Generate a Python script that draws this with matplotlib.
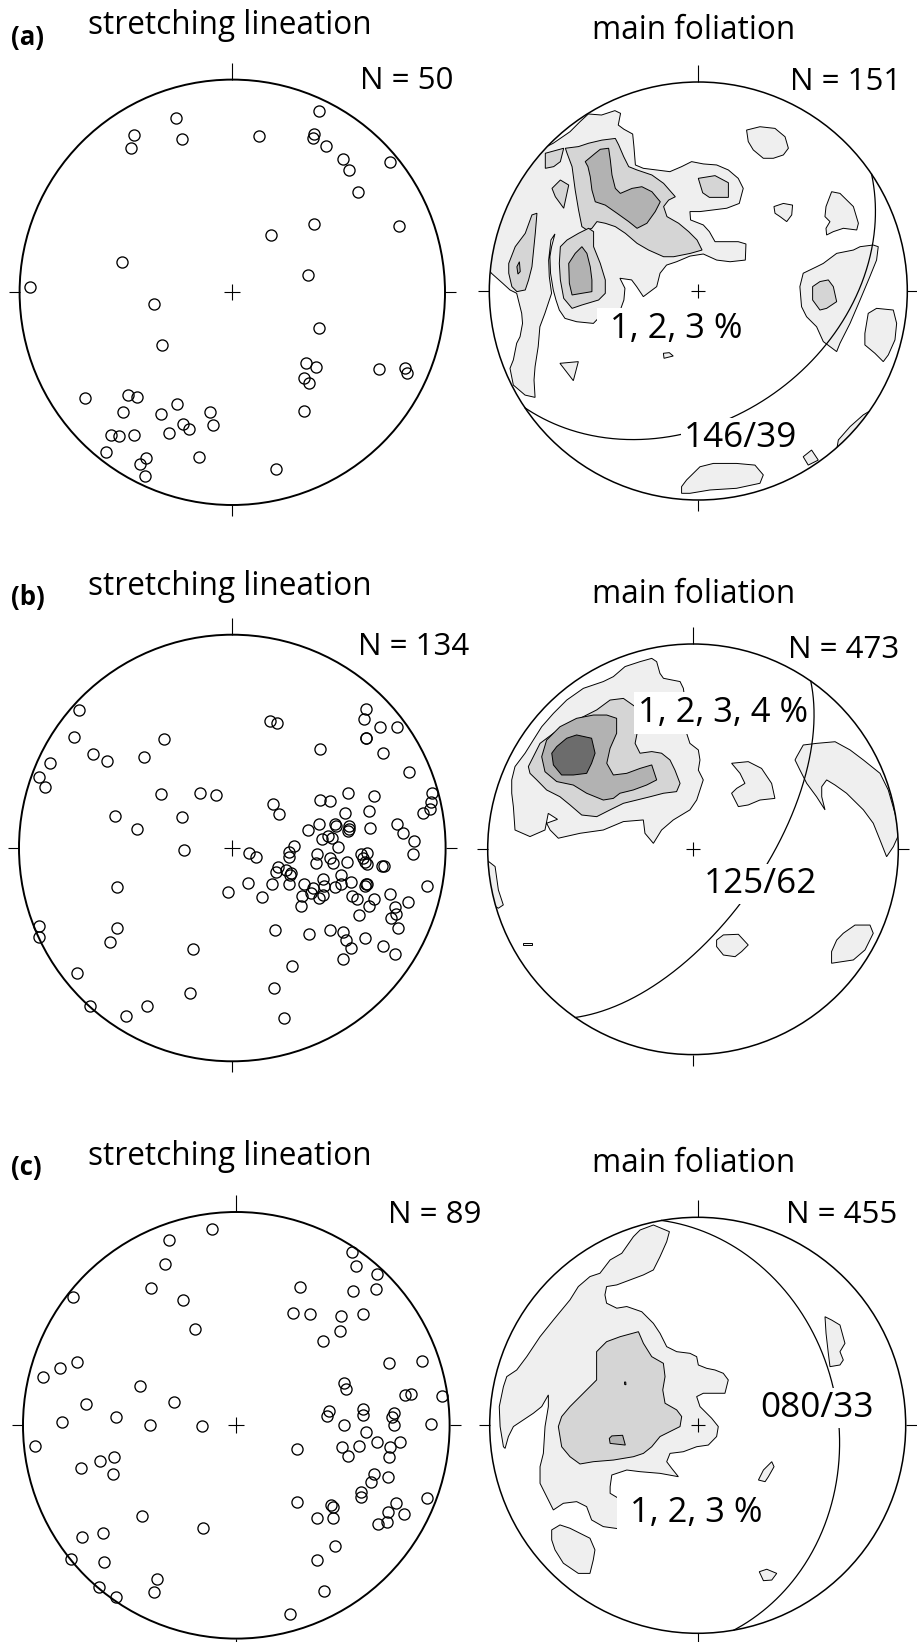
import numpy as np
import matplotlib
matplotlib.use("Agg")
import matplotlib.pyplot as plt
from matplotlib.patches import Circle, Polygon

plt.rcParams['font.family'] = ['Open Sans', 'DejaVu Sans']

W, H, DPI = 917, 1642, 100

# ---------------------------------------------------------------------------
# Stretching lineations: equal-area, lower hemisphere, (x, y) in % of net radius
# ---------------------------------------------------------------------------
lin_a = [(40.9, 85.3), (-26.6, 81.8), (-46.2, 73.8), (-47.5, 68.0), (-23.5, 72.1),
         (12.7, 73.7), (38.4, 74.3), (37.8, 72.7), (44.0, 68.8), (51.9, 62.9),
         (54.9, 57.7), (74.1, 61.1), (58.9, 47.0), (38.4, 32.0), (18.0, 26.8),
         (78.5, 31.0), (-51.7, 14.4), (35.7, 8.2), (-95.1, 2.4), (-36.7, -5.6),
         (40.9, -16.9), (-33.1, -24.9), (34.5, -33.2), (39.2, -35.0), (68.8, -36.2),
         (81.0, -35.7), (82.3, -37.9), (33.9, -40.1), (36.1, -42.8), (-69.3, -49.5),
         (-49.1, -48.1), (-45.0, -49.1), (-26.2, -52.4), (-51.4, -56.1), (-33.7, -57.2),
         (-10.3, -56.3), (33.5, -55.6), (-9.1, -62.2), (-23.2, -62.1), (-20.2, -64.3),
         (-57.2, -67.2), (-53.4, -67.7), (-46.1, -67.1), (-29.9, -66.1), (-59.4, -74.9),
         (-40.6, -78.1), (-43.6, -80.9), (-15.5, -77.4), (-40.9, -86.4), (20.5, -83.2)]

lin_b = [(-71.7, 64.5), (-74.4, 52.0), (-65.3, 44.1), (-58.6, 40.9), (-85.6, 39.8),
         (-90.5, 33.1), (-88.0, 28.8), (-41.4, 42.5), (-32.2, 51.1), (-33.4, 25.3),
         (-55.2, 14.8), (-44.8, 8.9), (-23.4, 14.5), (-15.0, 25.6), (-7.8, 24.8),
         (-22.5, -0.9), (17.7, 59.5), (20.8, 58.8), (62.5, 65.0), (61.9, 60.3),
         (69.1, 56.6), (77.2, 56.7), (62.8, 51.7), (62.8, 51.6), (70.5, 44.5),
         (41.1, 46.4), (82.8, 35.5), (93.8, 25.6), (93.1, 21.7), (92.8, 18.3),
         (89.5, 16.3), (19.2, 20.6), (21.9, 15.8), (41.3, 22.3), (45.6, 21.9),
         (54.1, 25.6), (66.4, 24.4), (52.8, 16.6), (64.1, 17.5), (40.8, 11.4),
         (48.0, 11.3), (48.4, 10.5), (54.5, 10.3), (54.8, 8.8), (54.4, 8.1),
         (64.4, 9.4), (77.2, 11.1), (79.8, 7.2), (35.5, 8.6), (41.9, 4.2),
         (45.0, 5.8), (46.7, 4.8), (49.4, 0.3), (85.0, 3.3), (84.8, -2.7),
         (28.9, 1.1), (26.4, -1.9), (26.4, -4.1), (39.8, -2.7), (45.6, -4.5),
         (39.4, -6.9), (47.3, -7.2), (53.6, -6.6), (60.3, -2.8), (63.3, -2.3),
         (61.1, -4.5), (62.3, -6.7), (63.0, -7.7), (70.0, -8.3), (70.9, -8.4),
         (8.0, -2.5), (11.3, -4.2), (21.3, -9.1), (20.5, -11.3), (25.2, -10.5),
         (27.7, -11.6), (27.0, -12.8), (26.6, -16.9), (18.8, -17.0), (7.5, -16.6),
         (-2.2, -20.8), (14.1, -22.8), (33.6, -16.7), (38.0, -18.6), (42.3, -14.4),
         (43.1, -17.7), (51.1, -12.5), (51.1, -16.9), (55.5, -15.8), (48.1, -18.4),
         (62.7, -16.7), (63.1, -17.0), (62.3, -17.7), (73.9, -21.4), (91.1, -17.7),
         (32.7, -22.3), (36.7, -21.3), (40.6, -23.6), (42.7, -22.2), (32.3, -27.2),
         (55.9, -22.5), (58.4, -23.8), (66.4, -24.1), (63.9, -27.3), (82.2, -25.2),
         (76.3, -27.5), (59.5, -31.4), (76.9, -31.1), (74.4, -33.0), (77.7, -37.7),
         (20.0, -38.6), (36.1, -40.2), (45.6, -38.3), (52.0, -39.2), (53.3, -43.3),
         (55.6, -46.7), (62.0, -42.0), (70.6, -45.8), (76.1, -49.5), (52.0, -52.2),
         (27.8, -55.3), (19.5, -65.6), (24.1, -79.7), (-18.4, -47.3), (-20.0, -68.1),
         (-40.2, -74.2), (-49.7, -78.9), (-66.9, -73.9), (-72.7, -58.4), (-90.6, -36.4),
         (-90.5, -41.9), (-53.9, -18.1), (-53.9, -37.5), (-57.2, -44.1)]

lin_c = [(-11.4, 91.9), (-31.6, 86.9), (-33.6, 75.6), (-40.0, 64.2), (-24.8, 58.6),
         (-19.2, 45.0), (-76.4, 60.0), (54.4, 81.4), (55.9, 74.8), (65.9, 70.9),
         (54.8, 63.0), (65.5, 63.8), (30.0, 64.7), (26.7, 52.7), (34.5, 52.0),
         (49.2, 51.4), (59.2, 52.2), (48.6, 44.2), (40.6, 39.5), (71.6, 29.2),
         (87.0, 30.0), (-74.7, 29.7), (-82.5, 27.0), (-90.5, 22.8), (-45.2, 18.4),
         (-29.1, 10.8), (-70.5, 10.2), (-81.6, 1.7), (-56.4, 3.9), (-40.5, 0.2),
         (-16.3, -0.3), (-94.5, -9.7), (50.5, 19.8), (51.6, 17.2), (79.1, 14.4),
         (82.0, 14.8), (96.6, 13.9), (43.4, 6.7), (42.3, 4.2), (59.5, 7.8),
         (59.5, 4.7), (73.9, 5.8), (73.0, 4.1), (74.1, 0.3), (50.6, 0.3),
         (91.1, 0.5), (60.9, -3.0), (65.9, -7.8), (76.9, -7.8), (72.0, -10.0),
         (71.4, -14.8), (49.5, -10.0), (57.7, -9.8), (52.2, -14.5), (28.3, -11.1),
         (-63.8, -16.7), (-57.2, -14.7), (-72.8, -19.8), (-57.8, -23.0), (64.5, -23.0),
         (63.1, -26.6), (70.9, -24.1), (58.4, -31.3), (58.3, -33.4), (89.4, -33.9),
         (28.3, -36.1), (44.2, -37.2), (45.5, -38.3), (74.8, -36.4), (37.7, -43.3),
         (45.3, -43.6), (71.1, -40.6), (78.6, -41.4), (66.3, -46.3), (70.8, -45.5),
         (46.3, -56.7), (38.0, -63.0), (41.1, -77.7), (25.3, -88.3), (-44.1, -42.5),
         (-15.8, -48.0), (-72.5, -52.2), (-62.5, -50.3), (-77.5, -62.5), (-62.2, -63.9),
         (-37.0, -72.2), (-38.4, -78.3), (-64.2, -75.8), (-56.4, -80.3)]

# ---------------------------------------------------------------------------
# Main foliation poles: density contour outlines (% of net radius)
# ---------------------------------------------------------------------------
fol_a_lvl1 = [
    [(-69.4, 70.7), (-61.4, 76.2), (-56.6, 81.0), (-52.6, 84.7), (-46.3, 84.2), (-39.9, 86.3),
     (-37.2, 85.0), (-38.3, 79.4), (-35.6, 77.4), (-31.4, 75.1), (-30.8, 69.1), (-30.1, 60.3),
     (-26.3, 58.7), (-19.9, 57.9), (-13.6, 57.1), (-8.0, 59.5), (-3.2, 61.9), (2.4, 60.8),
     (8.8, 60.3), (14.4, 57.9), (19.1, 53.9), (21.5, 49.1), (19.6, 41.9), (13.6, 39.6),
     (7.2, 38.8), (0.8, 38.0), (-4.0, 38.0), (-3.7, 34.0), (2.4, 31.6), (5.3, 28.4),
     (8.0, 23.6), (13.6, 23.6), (19.1, 23.6), (22.8, 22.5), (22.5, 14.8), (15.2, 14.0),
     (8.8, 14.8), (2.4, 17.7), (-4.0, 16.7), (-10.4, 14.0), (-15.2, 12.4), (-18.3, 8.5),
     (-19.9, 2.1), (-26.3, -2.7), (-29.5, 2.1), (-31.9, 5.3), (-37.5, 6.1), (-35.1, 1.3),
     (-35.6, -4.3), (-38.0, -11.0), (-47.8, -13.0), (-50.2, -15.5), (-58.2, -14.7),
     (-63.8, -13.1), (-66.5, -9.1), (-68.1, -4.3), (-69.4, 0.5), (-70.7, 8.5), (-71.0, 16.4),
     (-70.2, 21.2), (-68.6, 27.3), (-70.5, 24.4), (-71.6, 14.8), (-71.3, 6.9), (-70.2, -1.1),
     (-73.4, -10.7), (-75.8, -17.1), (-76.6, -26.6), (-78.1, -36.2), (-78.6, -42.6),
     (-78.1, -50.9), (-82.9, -49.8), (-88.5, -45.0), (-90.1, -37.0), (-88.5, -33.0),
     (-86.9, -25.0), (-85.3, -21.9), (-84.1, -15.5), (-84.5, -10.7), (-86.9, -1.1),
     (-90.1, 0.5), (-93.6, 3.7), (-99.0, 8.5), (-106.0, 20.0), (-99.7, 38.8), (-85.3, 62.7)],
    [(23.1, 77.0), (29.5, 78.6), (36.7, 77.8), (41.5, 73.8), (43.1, 68.3), (40.7, 65.1),
     (35.9, 63.5), (31.1, 63.5), (26.3, 67.5), (23.9, 71.5)],
    [(36.2, 40.4), (40.7, 41.9), (45.1, 41.1), (44.7, 36.4), (42.3, 33.2), (39.1, 35.6),
     (36.7, 37.2)],
    [(63.8, 47.5), (67.8, 46.7), (74.2, 40.4), (76.6, 32.4), (75.8, 29.2), (69.4, 30.0),
     (64.6, 28.4), (61.4, 26.8), (61.1, 30.0), (63.0, 33.2), (60.6, 35.6), (61.1, 40.4)],
    [(50.2, 8.5), (56.6, 11.6), (59.8, 13.2), (66.2, 18.0), (74.2, 19.6), (77.4, 21.2),
     (83.7, 22.0), (86.1, 21.2), (85.3, 14.8), (82.1, 6.9), (77.4, -4.3), (72.6, -15.5),
     (67.8, -25.0), (66.2, -29.0), (59.8, -24.2), (56.6, -17.1), (51.8, -12.3), (49.4, -7.5),
     (48.6, 2.1)],
    [(81.3, -10.7), (85.3, -8.3), (93.3, -9.1), (94.9, -15.5), (94.1, -23.4), (90.9, -30.6),
     (88.5, -33.8), (84.5, -29.8), (79.7, -25.8), (79.7, -20.3), (80.5, -15.5)],
    [(-66.2, -34.6), (-57.4, -33.8), (-59.8, -42.9)],
    [(-16.7, -29.8), (-13.9, -29.5), (-12.0, -31.1), (-16.4, -32.2)],
    [(-8.0, -93.6), (-5.6, -90.4), (0.8, -84.1), (7.2, -82.5), (18.3, -82.5), (27.1, -83.3),
     (31.1, -88.0), (29.5, -92.0), (18.3, -94.4), (5.6, -95.2), (-4.0, -96.8), (-8.0, -96.8)],
    [(50.2, -79.3), (54.2, -76.1), (57.4, -80.9), (52.6, -83.3)],
    [(67.0, -71.3), (72.6, -64.9), (78.9, -59.3), (82.9, -56.9), (91.7, -58.5),
     (74.2, -80.9), (66.2, -76.1)],
]
fol_a_lvl2 = [
    [(-63.6, 68.3), (-57.3, 69.1), (-52.5, 70.7), (-46.1, 72.2), (-39.7, 73.0), (-38.1, 69.9),
     (-35.7, 64.3), (-33.3, 59.5), (-29.3, 57.9), (-22.2, 55.5), (-16.6, 51.5), (-11.0, 45.1),
     (-14.2, 43.5), (-16.6, 40.4), (-15.0, 35.6), (-9.4, 32.4), (-4.6, 28.4), (-0.6, 24.4),
     (1.8, 19.6), (-3.8, 18.0), (-11.8, 16.4), (-16.6, 16.4), (-23.8, 19.6), (-29.3, 22.8),
     (-34.9, 27.6), (-39.7, 30.8), (-44.5, 32.4), (-48.5, 33.2), (-50.9, 30.0), (-53.3, 29.2),
     (-55.7, 30.8), (-57.3, 38.8), (-58.9, 48.3), (-60.4, 59.5), (-62.8, 65.9)],
    [(-66.0, 21.2), (-62.8, 24.4), (-57.3, 27.6), (-52.5, 30.0), (-50.1, 28.4), (-50.1, 21.2),
     (-46.9, 13.2), (-44.5, 5.3), (-44.5, -1.1), (-47.7, -4.3), (-55.7, -6.7), (-60.4, -8.3),
     (-64.4, -3.5), (-66.0, 5.3), (-66.5, 13.2)],
    [(-73.2, 65.9), (-64.4, 68.3), (-66.0, 61.9), (-69.2, 59.5), (-73.2, 58.7)],
    [(-70.0, 49.1), (-66.0, 53.1), (-62.0, 50.7), (-64.4, 39.6), (-68.4, 45.1)],
    [(-90.7, 13.2), (-87.6, 21.2), (-82.8, 27.6), (-79.6, 36.4), (-77.2, 37.2), (-78.0, 27.6),
     (-78.8, 19.6), (-79.6, 11.6), (-81.2, 5.3), (-82.8, 0.5), (-86.8, -0.3), (-89.2, 2.1),
     (-90.7, 8.5)],
    [(0.0, 53.9), (8.0, 55.2), (14.4, 51.8), (14.4, 44.8), (5.3, 44.8), (2.1, 47.0)],
    [(54.7, 2.1), (58.2, 4.5), (62.2, 5.3), (64.6, 2.1), (66.2, -5.1), (61.4, -8.3),
     (58.2, -9.1), (54.7, -4.3)],
]
fol_a_lvl3 = [
    [(-54.1, 61.9), (-49.3, 65.9), (-46.9, 67.8), (-42.9, 68.3), (-42.1, 62.7), (-41.3, 55.5),
     (-39.7, 49.1), (-37.3, 46.7), (-31.7, 49.1), (-27.0, 49.9), (-22.2, 47.5), (-18.2, 42.7),
     (-20.6, 38.0), (-24.6, 32.4), (-29.3, 30.0), (-33.3, 33.2), (-38.9, 37.2), (-44.5, 41.1),
     (-49.3, 42.7), (-50.9, 48.3), (-51.7, 54.7), (-52.8, 59.5)],
    [(-62.0, 13.2), (-58.9, 18.0), (-55.7, 21.2), (-53.3, 18.0), (-51.7, 11.6), (-50.9, 5.3),
     (-50.9, -0.3), (-55.7, -1.1), (-60.4, -1.9), (-61.7, 3.7)],
    [(-86.8, 11.6), (-85.6, 14.0), (-85.2, 9.3), (-86.3, 8.1)],
]

fol_b_lvl1 = [
    [(-88.3, 33.8), (-86.7, 40.3), (-81.8, 46.8), (-77.8, 53.2), (-73.7, 59.7), (-68.0, 66.2),
     (-61.5, 72.7), (-53.4, 78.4), (-43.7, 81.7), (-38.8, 84.1), (-33.1, 89.0), (-25.8, 91.4),
     (-20.1, 93.0), (-17.7, 91.4), (-16.1, 85.7), (-14.4, 83.3), (-10.4, 82.5), (-6.3, 81.7),
     (-4.7, 78.4), (-3.9, 72.7), (-3.9, 59.7), (-3.1, 56.5), (-1.5, 51.6), (2.6, 48.4),
     (3.4, 43.5), (2.6, 38.6), (5.0, 33.8), (3.4, 28.9), (1.8, 24.0), (-1.5, 19.2),
     (-9.6, 14.3), (-15.3, 9.4), (-19.3, 2.9), (-23.4, 7.8), (-24.2, 14.3), (-33.9, 13.5),
     (-43.7, 9.4), (-55.0, 7.8), (-65.6, 5.4), (-69.6, 9.4), (-71.3, 12.7), (-66.0, 14.6),
     (-70.5, 17.5), (-72.1, 9.4), (-79.4, 6.2), (-86.7, 9.4), (-87.5, 20.8), (-88.3, 27.3)],
    [(18.8, 41.9), (26.9, 42.7), (33.4, 39.4), (38.3, 32.1), (39.9, 24.8), (32.6, 24.0),
     (26.9, 21.6), (22.1, 20.8), (18.8, 27.3), (21.3, 29.7), (25.3, 32.1), (22.9, 37.0)],
    [(50.5, 45.1), (53.7, 50.8), (60.2, 51.6), (69.2, 52.4), (76.5, 48.4), (83.0, 43.5),
     (91.1, 37.0), (95.1, 28.9), (98.4, 17.5), (100.5, 7.8), (97.6, 1.3), (94.3, -3.6),
     (91.1, 4.5), (87.8, 12.7), (83.0, 19.2), (74.8, 27.3), (69.2, 31.3), (65.1, 33.8),
     (62.7, 30.5), (62.7, 25.6), (64.3, 19.2), (60.2, 25.6), (55.4, 32.1), (52.1, 38.6),
     (49.7, 43.5)],
    [(-100.5, -5.2), (-96.4, -8.4), (-94.8, -19.8), (-92.4, -27.1), (-94.8, -28.7),
     (-102.0, -24.7)],
    [(-82.6, -45.8), (-78.6, -45.8), (-78.6, -46.4), (-82.6, -46.4)],
    [(11.5, -44.2), (14.8, -41.7), (22.1, -41.4), (26.9, -46.6), (23.7, -49.8), (20.5, -52.3),
     (14.8, -51.5), (11.5, -47.4)],
    [(67.5, -49.8), (70.0, -44.2), (73.2, -40.9), (78.9, -36.9), (86.2, -36.9), (87.8, -40.9),
     (83.8, -49.0), (78.1, -53.9), (67.5, -55.5)],
]
fol_b_lvl2 = [
    [(-80.2, 40.3), (-74.5, 51.6), (-68.0, 56.5), (-59.9, 61.4), (-53.4, 64.6), (-46.9, 67.9),
     (-40.4, 72.7), (-33.9, 73.5), (-28.2, 69.5), (-27.4, 64.6), (-26.6, 59.7), (-28.2, 51.6),
     (-25.8, 46.8), (-20.1, 47.6), (-15.3, 46.8), (-11.2, 43.5), (-8.8, 38.6), (-6.3, 32.1),
     (-8.0, 28.1), (-14.4, 27.3), (-20.9, 25.6), (-27.4, 24.0), (-33.9, 22.4), (-40.4, 19.2),
     (-46.9, 15.9), (-54.2, 16.7), (-59.9, 21.6), (-64.8, 25.6), (-71.3, 28.9), (-76.1, 33.8),
     (-79.4, 37.0)],
]
fol_b_lvl3 = [
    [(-73.7, 45.1), (-71.3, 53.2), (-64.8, 59.7), (-56.7, 63.8), (-48.5, 65.4), (-42.0, 65.4),
     (-37.2, 63.8), (-37.2, 56.5), (-40.4, 49.2), (-42.0, 41.9), (-38.8, 36.2), (-32.3, 37.0),
     (-25.8, 39.4), (-20.1, 41.1), (-17.7, 33.8), (-22.6, 31.3), (-29.1, 28.9), (-35.6, 27.3),
     (-38.8, 24.8), (-43.7, 24.0), (-51.8, 27.3), (-58.3, 31.3), (-66.4, 33.0), (-72.1, 37.8)],
]
fol_b_lvl4 = [
    [(-68.8, 46.8), (-66.4, 50.0), (-61.5, 54.1), (-56.7, 55.7), (-49.4, 54.1), (-47.7, 46.8),
     (-49.4, 41.9), (-51.8, 37.0), (-58.3, 36.2), (-64.0, 36.2), (-68.0, 41.1)],
]

fol_c_lvl1 = [
    [(-93.4, -10.3), (-95.0, -0.6), (-95.4, 9.0), (-93.4, 18.6), (-91.8, 23.4), (-87.0, 26.6),
     (-82.2, 33.0), (-75.8, 42.6), (-69.4, 50.6), (-61.4, 60.3), (-57.4, 66.7), (-51.8, 71.5),
     (-47.0, 73.1), (-42.1, 79.5), (-36.5, 82.7), (-30.9, 90.7), (-27.7, 93.9), (-21.3, 96.3),
     (-13.6, 93.1), (-14.9, 88.3), (-18.1, 81.1), (-21.3, 74.7), (-26.1, 72.3), (-32.5, 69.9),
     (-38.9, 67.5), (-43.8, 66.7), (-44.6, 62.7), (-43.8, 58.7), (-38.9, 56.3), (-34.1, 57.1),
     (-26.9, 54.6), (-21.3, 49.0), (-18.1, 44.2), (-14.9, 37.8), (-10.1, 35.4), (-3.7, 34.6),
     (-0.5, 33.0), (0.3, 29.0), (4.3, 27.4), (8.3, 26.6), (12.3, 25.0), (14.7, 21.8),
     (13.1, 15.4), (9.1, 15.4), (2.7, 15.4), (-0.5, 13.8), (1.1, 9.0), (6.7, 3.4),
     (9.9, -0.6), (9.1, -5.4), (5.1, -9.5), (-0.5, -10.3), (-6.9, -12.7), (-13.3, -13.5),
     (-14.9, -17.5), (-12.5, -20.7), (-9.3, -24.7), (-18.1, -23.1), (-27.7, -22.3),
     (-34.1, -21.5), (-41.3, -23.9), (-42.1, -29.5), (-42.1, -32.7), (-38.1, -35.1),
     (-34.1, -34.3), (-30.9, -35.9), (-30.1, -50.3), (-34.1, -50.3), (-45.4, -48.7),
     (-51.0, -45.5), (-53.4, -39.1), (-58.2, -36.7), (-64.6, -37.5), (-69.4, -40.7),
     (-71.8, -35.9), (-75.8, -27.9), (-75.8, -19.9), (-74.2, -13.5), (-73.4, -0.6),
     (-71.8, 9.0), (-71.8, 14.6), (-75.0, 9.0), (-79.0, 5.8), (-83.8, 2.6), (-88.6, -0.6),
     (-91.0, -5.4), (-92.6, -11.1)],
    [(61.2, 52.2), (64.4, 50.6), (68.4, 48.2), (70.8, 39.4), (68.4, 35.4), (70.0, 31.4),
     (68.4, 29.0), (63.6, 28.2), (62.8, 34.6), (61.7, 44.2)],
    [(29.2, -26.3), (31.6, -21.5), (35.6, -17.5), (36.7, -19.9), (34.0, -24.7), (32.4, -27.1)],
    [(-70.2, -50.3), (-66.2, -47.9), (-61.4, -49.5), (-56.6, -51.9), (-51.8, -54.3),
     (-49.4, -59.9), (-50.2, -64.7), (-51.8, -71.2), (-57.4, -71.2), (-64.6, -66.3),
     (-68.6, -59.9), (-70.2, -55.1)],
    [(29.6, -70.4), (33.2, -69.2), (38.0, -71.2), (35.6, -74.4), (31.6, -74.7)],
]
fol_c_lvl2 = [
    [(-67.0, -0.6), (-65.4, 4.2), (-61.4, 9.0), (-58.2, 12.2), (-53.4, 17.0), (-48.6, 21.8),
     (-48.6, 35.4), (-43.8, 40.2), (-37.3, 42.6), (-28.5, 45.0), (-26.1, 39.4), (-22.1, 33.0),
     (-16.5, 29.8), (-15.7, 23.4), (-16.8, 17.0), (-15.7, 10.6), (-10.1, 7.4), (-7.7, 4.2),
     (-8.5, -0.6), (-13.3, -3.0), (-18.1, -5.4), (-22.1, -10.3), (-26.1, -13.5), (-30.9, -15.1),
     (-40.5, -16.7), (-50.2, -17.5), (-56.6, -18.6), (-61.4, -15.1), (-65.4, -10.3)],
]
fol_c_lvl3 = [
    [(-42.5, -6.3), (-41.3, -5.1), (-36.1, -4.8), (-34.8, -9.5), (-42.1, -8.7)],
    [(-35.2, 20.8), (-34.6, 20.8), (-34.5, 19.5), (-35.1, 19.6)],
]

# mean foliation planes (dip direction / dip)
plane_a = (146, 39)
plane_b = (125, 62)
plane_c = (80, 33)

counts_lin = [50, 134, 89]
counts_fol = [151, 473, 455]
contour_labels = ["1, 2, 3 %", "1, 2, 3, 4 %", "1, 2, 3 %"]

level_colors = ['#efefef', '#d5d5d5', '#b2b2b2', '#6c6c6c']

# ---------------------------------------------------------------------------
fig = plt.figure(figsize=(W / DPI, H / DPI), dpi=DPI)
fig.patch.set_facecolor('white')


def fig_text(x, y, s, **kw):
    """Place text at pixel position (x right, y down)."""
    return fig.text(x / W, 1 - y / H, s, **kw)


def make_net(cx, cy, R, lw_prim, cross):
    lim = 1.2
    ax = fig.add_axes([(cx - lim * R) / W, 1 - (cy + lim * R) / H,
                       2 * lim * R / W, 2 * lim * R / H])
    ax.set_xlim(-lim, lim)
    ax.set_ylim(-lim, lim)
    ax.axis('off')
    ax.add_patch(Circle((0, 0), 1.0, fill=False, ec='black', lw=lw_prim, zorder=6))
    t = 11.0 / R
    kw = dict(color='black', lw=0.8, solid_capstyle='butt', zorder=6)
    ax.plot([0, 0], [1, 1 + 17.0 / R], **kw)
    ax.plot([0, 0], [-1, -1 - t], **kw)
    ax.plot([1, 1 + t], [0, 0], **kw)
    ax.plot([-1, -1 - t], [0, 0], **kw)
    c = cross / R
    ax.plot([-c, c], [0, 0], **kw)
    ax.plot([0, 0], [-c, c], **kw)
    return ax


def great_circle(dipdir, dip, n=361):
    s = np.radians(dipdir - 90.0)
    dd = np.radians(dipdir)
    d = np.radians(dip)
    a = np.linspace(0, np.pi, n)
    sv = np.array([np.cos(s), np.sin(s), 0.0])
    dv = np.array([np.cos(d) * np.cos(dd), np.cos(d) * np.sin(dd), np.sin(d)])
    v = np.outer(np.cos(a), sv) + np.outer(np.sin(a), dv)
    plunge = np.arcsin(np.clip(v[:, 2], -1, 1))
    trend = np.arctan2(v[:, 1], v[:, 0])
    r = np.sqrt(2.0) * np.sin((np.pi / 2 - plunge) / 2)
    return r * np.sin(trend), r * np.cos(trend)


def draw_lineations(ax, pts):
    arr = np.asarray(pts, float) / 100.0
    ax.plot(arr[:, 0], arr[:, 1], 'o', ms=8.0, mfc='none', mec='black', mew=0.95,
            zorder=4, clip_on=False)


def draw_contours(ax, levels):
    clip = Circle((0, 0), 1.0, transform=ax.transData)
    for z, polys in enumerate(levels):
        for p in polys:
            arr = np.asarray(p, float) / 100.0
            patch = Polygon(arr, closed=True, fc=level_colors[z], ec='black',
                            lw=0.7, joinstyle='miter', zorder=1 + z)
            ax.add_patch(patch)
            patch.set_clip_path(clip)


def draw_plane(ax, plane):
    x, y = great_circle(*plane)
    ax.plot(x, y, color='black', lw=0.9, zorder=5)


# nets: (center x, center y, radius) in pixels
nets_lin = [(232.3, 292.3, 212.7), (232.3, 848.0, 213.3), (236.3, 1425.3, 213.3)]
nets_fol = [(698.3, 291.0, 209.0), (693.0, 849.3, 205.3), (697.7, 1425.3, 208.0)]

lin_sets = [lin_a, lin_b, lin_c]
fol_sets = [[fol_a_lvl1, fol_a_lvl2, fol_a_lvl3],
            [fol_b_lvl1, fol_b_lvl2, fol_b_lvl3, fol_b_lvl4],
            [fol_c_lvl1, fol_c_lvl2, fol_c_lvl3]]
planes = [plane_a, plane_b, plane_c]

for i in range(3):
    ax = make_net(*nets_lin[i], lw_prim=1.4, cross=8.0)
    draw_lineations(ax, lin_sets[i])
    ax = make_net(*nets_fol[i], lw_prim=1.1, cross=7.0)
    draw_contours(ax, fol_sets[i])
    draw_plane(ax, planes[i])

# ---- text -----------------------------------------------------------------
title_kw = dict(fontsize=22.7, color='black', ha='left', va='baseline')
letter_kw = dict(fontsize=18.5, fontweight='bold', color='black', ha='left', va='baseline')
n_kw = dict(fontsize=22.5, color='black', ha='left', va='baseline')
white = dict(facecolor='white', edgecolor='none', boxstyle='square,pad=0.08')

rows_title_y = [(34.3, 39.0, 44.5), (595.0, 603.0, 604.5), (1165.0, 1171.5, 1174.5)]
for (yl, yr, yp), letter in zip(rows_title_y, ['(a)', '(b)', '(c)']):
    fig_text(11, yp, letter, **letter_kw)
    fig_text(88.5, yl, 'stretching lineation', **title_kw)
    fig_text(592.5, yr, 'main foliation', **title_kw)

n_lin_pos = [(360.5, 89.0), (357.5, 655.0), (387.5, 1223.3)]
n_fol_pos = [(790.5, 90.0), (787.5, 658.3), (785.5, 1223.3)]
for (x, y), n in zip(n_lin_pos, counts_lin):
    fig_text(x, y, f'N = {n}', **n_kw)
for (x, y), n in zip(n_fol_pos, counts_fol):
    fig_text(x, y, f'N = {n}', **n_kw)

plane_pos = [(684.0, 446.7), (704.0, 893.3), (760.0, 1416.7)]
for (x, y), (dd, dp) in zip(plane_pos, planes):
    fig_text(x, y, f'{dd:03d}/{dp:02d}', fontsize=25.3,
             ha='left', va='baseline', bbox=white, zorder=10)

clabel_pos = [(601.0, 338.5, ' '), (638.0, 721.7, ''), (621.0, 1521.7, ' ')]
for (x, y, lead), s in zip(clabel_pos, contour_labels):
    fig_text(x, y, lead + s, fontsize=24.8, ha='left', va='baseline',
             bbox=dict(facecolor='white', edgecolor='none', boxstyle='square,pad=0.12'),
             zorder=10)

fig.savefig('out.png', dpi=DPI, facecolor='white')
